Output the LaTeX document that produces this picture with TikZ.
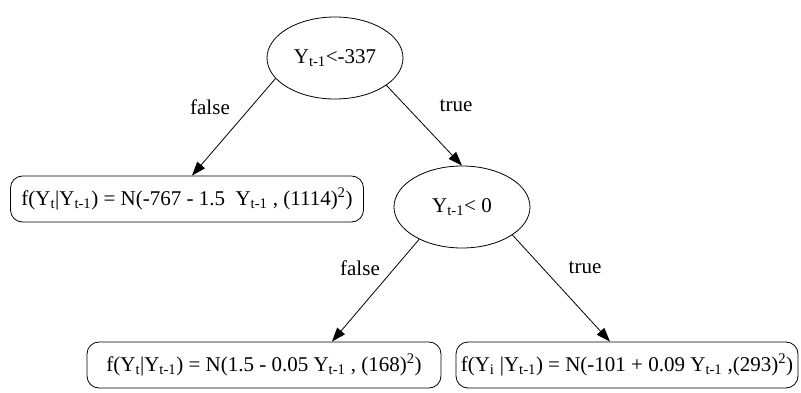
\documentclass[tikz,border=0pt]{standalone}
\usepackage{fontspec}
\setmainfont{Liberation Serif}
\usetikzlibrary{shapes.geometric,arrows.meta}
\begin{document}
\begin{tikzpicture}[x=1pt,y=-1pt,
  txt/.style={font=\fontsize{21}{25}\selectfont},
  dec/.style={draw, ellipse, line width=0.8pt, minimum width=136pt, minimum height=82pt, inner sep=0pt, txt},
  leaf/.style={draw, rounded corners=12pt, line width=0.8pt, minimum height=46pt, inner sep=0pt, txt},
  arr/.style={-{Triangle[length=14pt,width=10pt]}, line width=0.8pt},
  lab/.style={txt}
]
\useasboundingbox (0,0) rectangle (801,393);
\node[dec] (n1) at (335,58) {Y\textsubscript{t-1}<-337};
\node[dec] (n2) at (462,207) {Y\textsubscript{t-1}< 0};
\node[leaf, minimum width=353pt] (l1) at (187,199) {f(Y\textsubscript{t}|Y\textsubscript{t-1}) = N(-767 - 1.5\ \ Y\textsubscript{t-1} , (1114)\textsuperscript{2})};
\node[leaf, minimum width=354pt] (l2) at (264,365) {f(Y\textsubscript{t}|Y\textsubscript{t-1}) = N(1.5 - 0.05 Y\textsubscript{t-1} , (168)\textsuperscript{2})};
\node[leaf, minimum width=342pt] (l3) at (627,365) {f(Y\textsubscript{i} |Y\textsubscript{t-1}) = N(-101 + 0.09 Y\textsubscript{t-1} ,(293)\textsuperscript{2})};
\draw[arr] (n1.199) -- ([xshift=5pt]l1.north);
\draw[arr] (n1.332) -- (n2.north);
\draw[arr] (n2.217) -- ([xshift=68pt]l2.north);
\draw[arr] (n2.331.6) -- ([xshift=-17pt]l3.north);
\node[lab] (f1) at (210,107) {false};
\node[lab] (t1) at (456,106) {true};
\node[lab] (f2) at (360,268) {false};
\node[lab] (t2) at (585,268) {true};
\end{tikzpicture}
\end{document}
